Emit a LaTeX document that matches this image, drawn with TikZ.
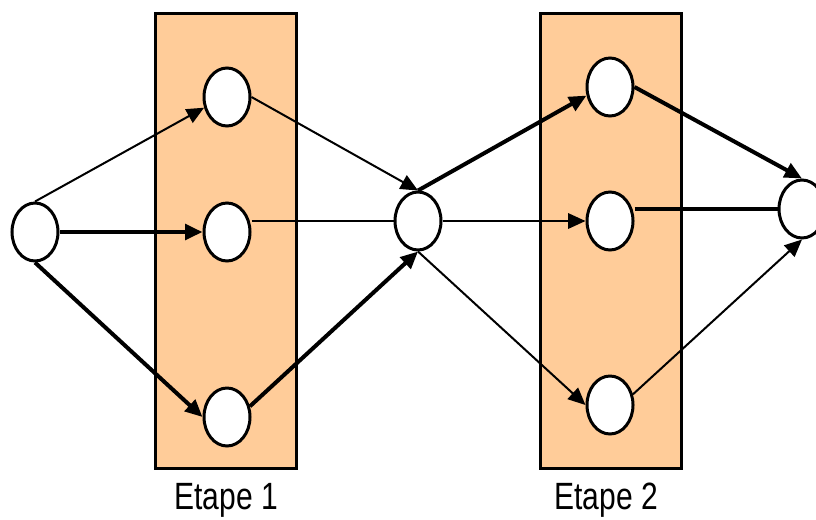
\documentclass[tikz,border=0pt]{standalone}
\usepackage{fontspec}
\setmainfont{Liberation Sans}
\usetikzlibrary{arrows.meta,positioning,shapes.geometric}
\definecolor{peche}{RGB}{255,204,153}
\tikzset{
    etape/.style={rectangle,draw=black,fill=peche,line width=2.25pt,minimum width=105.75pt,minimum height=341pt,inner sep=0pt},
    etat/.style={ellipse,draw=black,fill=white,line width=2.25pt,minimum width=34.5pt,minimum height=43.5pt,inner sep=0pt},
    titre/.style={font=\fontsize{28.5}{30}\selectfont,xscale=0.79,inner sep=0pt},
    lien/.style={line width=1.5pt},
    fort/.style={line width=3pt},
    pil/.style={-{Triangle[length=13pt,width=11.5pt]}}
}
\begin{document}
\begin{tikzpicture}[x=0.75pt,y=-0.75pt]
    \useasboundingbox (0,0) rectangle (816,519);
    % les deux etapes
    \node[etape] (box1) at (226,241) {};
    \node[etape] (box2) at (610.5,241) {};
    \node[titre, below=10pt of box1] (t1) {Etape 1};
    \node[titre, below=10pt of box2, xshift=-4pt] (t2) {Etape 2};
    % etats
    \node[etat] (s) at (35,232) {};
    \node[etat] (e1a) at (227,97) {};
    \node[etat] (e1b) at (227,232) {};
    \node[etat] (e1c) at (227,417) {};
    \node[etat] (m) at (418,221) {};
    \node[etat] (e2a) at (610,87) {};
    \node[etat] (e2b) at (610,221) {};
    \node[etat] (e2c) at (610,405) {};
    \node[etat] (f) at (802,209) {};
    % liens
    \draw[lien,pil] (s.north) -- (e1a.205);
    \draw[fort,pil] (s.east) -- (e1b.west);
    \draw[fort,pil] (s.south) -- (e1c.west);
    \draw[lien,pil] (e1a.east) -- (m.north);
    \draw[lien] (m.west -| e1b.east) -- (m.west);
    \draw[fort,pil] (e1c.25) -- (m.south);
    \draw[fort,pil] (m.north) -- (e2a.200);
    \draw[lien,pil] (m.east) -- (e2b.west);
    \draw[lien,pil] (m.south) -- (e2c.west);
    \draw[fort,pil] (e2a.east) -- (f.north);
    \draw[fort] (f.west -| e2b.east) -- (f.west);
    \draw[lien,pil] (e2c.25) -- (f.south);
\end{tikzpicture}
\end{document}
